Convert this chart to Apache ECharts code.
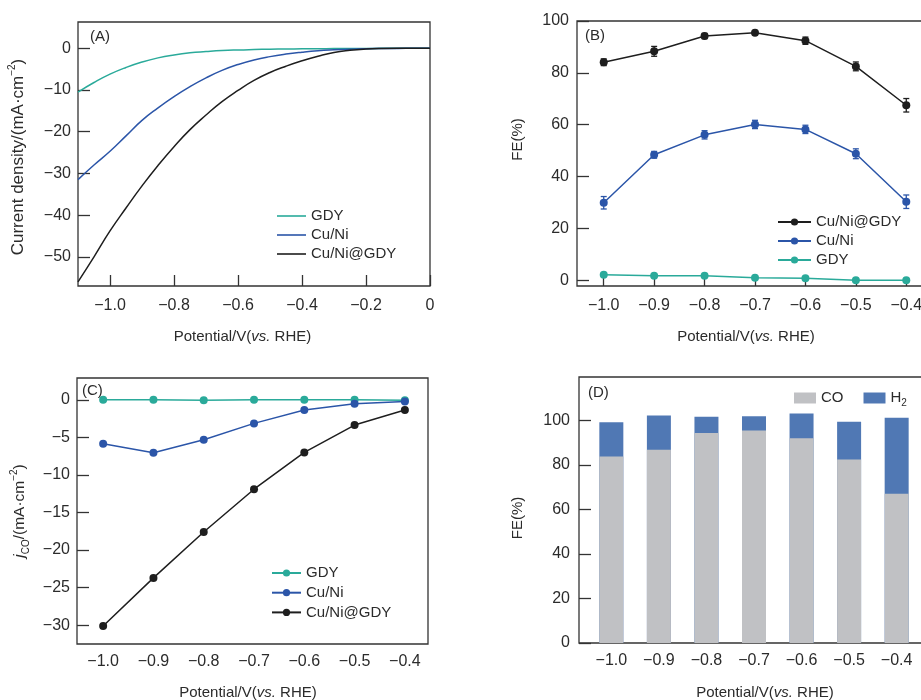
<!DOCTYPE html>
<html>
<head>
<meta charset="utf-8">
<script src="https://cdn.jsdelivr.net/npm/echarts@6/dist/echarts.min.js"></script>
<style>
    html, body { margin: 0; padding: 0; background: #ffffff; }
    #my { width: 921px; height: 700px; }
</style>
</head>
<body>
<div id="my"></div>
<script>
// (A) LSV curves
var potA = [-1.1, -1.05, -1.0, -0.95, -0.9, -0.85, -0.8, -0.75, -0.7, -0.65, -0.6, -0.55,
    -0.5, -0.45, -0.4, -0.35, -0.3, -0.25, -0.2, -0.15, -0.1, -0.05, 0];
var jGDY = [-10.5, -8.2, -6.2, -4.6, -3.3, -2.3, -1.6, -1.1, -0.8, -0.55, -0.4, -0.3,
    -0.22, -0.17, -0.13, -0.1, -0.07, -0.05, -0.03, -0.02, -0.01, 0, 0];
var jCuNi = [-31.5, -28.0, -24.7, -21.0, -17.3, -14.3, -11.6, -9.2, -7.1, -5.3, -3.9, -2.8,
    -2.0, -1.4, -0.95, -0.6, -0.38, -0.22, -0.12, -0.06, -0.03, -0.01, 0];
var jCuNiGDY = [-56.0, -50.0, -43.8, -38.3, -33.0, -28.1, -23.6, -19.5, -16.0, -12.8, -10.1, -7.7,
    -5.8, -4.3, -3.0, -1.9, -1.0, -0.5, -0.2, -0.05, 0, 0, 0];

// (B)(C)(D) potentials
var potentials = [-1.0, -0.9, -0.8, -0.7, -0.6, -0.5, -0.4];

// (B) FE of CO
var feCuNiGDY = [84.1, 88.3, 94.2, 95.5, 92.4, 82.5, 67.5];
var feCuNiGDYErr = [1.3, 1.9, 1.0, 0.8, 1.4, 1.7, 2.6];
var feCuNi = [29.9, 48.4, 56.1, 60.1, 58.2, 48.8, 30.3];
var feCuNiErr = [2.4, 1.3, 1.6, 1.6, 1.6, 1.9, 2.6];
var feGDY = [2.1, 1.8, 1.8, 1.0, 0.8, 0.0, 0.0];

// (C) partial current density of CO
var jcoGDY = [0, 0, -0.05, 0, 0, 0, -0.05];
var jcoCuNi = [-5.84, -7.04, -5.31, -3.14, -1.37, -0.53, -0.22];
var jcoCuNiGDY = [-30.1, -23.7, -17.6, -11.9, -7.0, -3.36, -1.37];

// (D) FE of CO / H2 on Cu/Ni@GDY
var coFE = [83.8, 86.8, 94.3, 95.5, 92.0, 82.4, 67.0];
var h2FE = [15.4, 15.4, 7.3, 6.4, 11.1, 17.0, 34.2];

// tick labels
var ticksAx = [-1.0, -0.8, -0.6, -0.4, -0.2, 0];
var ticksAy = [-50, -40, -30, -20, -10, 0];
var ticksFE = [0, 20, 40, 60, 80, 100];
var ticksJco = [-30, -25, -20, -15, -10, -5, 0];

var TEAL = '#2aaa9a', BLUE = '#2b55a8', BLACK = '#1e1e1e';
var FONT = '"Liberation Sans", Arial, sans-serif';
var TXT = '#2b2b2b';

function fmtV(v) {
    if (Math.abs(v) < 1e-9) return '0';
    return (v < 0 ? '\u2212' : '') + Math.abs(v).toFixed(1);
}
function fmtInt(v) {
    return v < 0 ? '\u2212' + Math.abs(v) : String(v);
}
function pairs(xs, ys) {
    return xs.map(function (x, i) { return [x, ys[i]]; });
}
function errPairs(xs, ys, es) {
    return xs.map(function (x, i) { return [x, ys[i] - es[i], ys[i] + es[i]]; });
}
// top of each stacked H2 bar (CO + H2), the CO bar is drawn over it
function stackTop(xs, a, b) {
    return xs.map(function (x, i) { return [x, a[i] + b[i]]; });
}

var chart = echarts.init(document.getElementById('my'));

var potName = 'Potential/V({i|vs.} RHE)';
function nameRich(size) {
    return {
        i: { fontStyle: 'italic', fontSize: size, fontFamily: FONT, color: TXT },
        sup: { fontSize: 10, verticalAlign: 'top', lineHeight: 22, fontFamily: FONT, color: TXT },
        sub: { fontSize: 10, verticalAlign: 'bottom', lineHeight: 22, fontFamily: FONT, color: TXT }
    };
}

function xAxisCfg(grid, min, max, ticks, opts) {
    return {
        type: 'value', gridIndex: grid, min: min, max: max,
        name: potName, nameLocation: 'middle', nameGap: opts.nameGap,
        nameTextStyle: { fontSize: 15, fontFamily: FONT, color: TXT, rich: nameRich(15), lineHeight: 22, padding: opts.namePad || 0 },
        axisLine: { show: false, onZero: false },
        splitLine: { show: false },
        axisTick: { show: opts.ticks !== false, inside: true, length: opts.tickLen || 11, customValues: ticks, lineStyle: { color: '#333', width: 1.3 } },
        axisLabel: { customValues: ticks, formatter: fmtV, margin: opts.margin, fontSize: 16, fontFamily: FONT, color: TXT }
    };
}
function yAxisCfg(grid, min, max, ticks, name, opts) {
    var size = opts.nameSize || 15;
    return {
        type: 'value', gridIndex: grid, min: min, max: max,
        name: name, nameLocation: 'middle', nameGap: opts.nameGap,
        nameTextStyle: { fontSize: size, fontFamily: FONT, color: TXT, rich: nameRich(size), lineHeight: 22, padding: opts.namePad || 0 },
        axisLine: { show: false, onZero: false },
        splitLine: { show: false },
        axisTick: { inside: true, length: 12, customValues: ticks, lineStyle: { color: '#333', width: 1.3 } },
        axisLabel: { customValues: ticks, formatter: fmtInt, margin: opts.margin, fontSize: 16, fontFamily: FONT, color: TXT }
    };
}

function errorBar(params, api) {
    var x = api.value(0);
    var lo = api.coord([x, api.value(1)]);
    var hi = api.coord([x, api.value(2)]);
    var w = 3;
    var st = { stroke: api.visual('color'), lineWidth: 1.3 };
    return {
        type: 'group',
        children: [
            { type: 'line', shape: { x1: lo[0], y1: lo[1], x2: hi[0], y2: hi[1] }, style: st },
            { type: 'line', shape: { x1: lo[0] - w, y1: lo[1], x2: lo[0] + w, y2: lo[1] }, style: st },
            { type: 'line', shape: { x1: hi[0] - w, y1: hi[1], x2: hi[0] + w, y2: hi[1] }, style: st }
        ]
    };
}

function legendName(n) { return n.split('#')[0]; }

var gridBase = { show: true, borderColor: '#333', borderWidth: 1.3, outerBoundsMode: 'none', containLabel: false };
function gridAt(l, t, w, h) {
    return Object.assign({ left: l, top: t, width: w, height: h }, gridBase);
}

var option = {
    animation: false,
    backgroundColor: '#ffffff',
    textStyle: { fontFamily: FONT },
    grid: [
        gridAt(78, 22, 352, 264),
        gridAt(577, 21, 356, 265),   // right edge runs past the canvas, as in the figure
        gridAt(77, 378, 351, 266),
        gridAt(579, 377, 350, 266)
    ],
    xAxis: [
        xAxisCfg(0, -1.1, 0, ticksAx, { nameGap: 40, margin: 12, namePad: [0, 23, 0, 0] }),
        xAxisCfg(1, -1.053, -0.347, potentials, { nameGap: 40, margin: 12, tickLen: 8, namePad: [0, 18, 0, 0] }),
        xAxisCfg(2, -1.052, -0.354, potentials, { nameGap: 38, margin: 10, ticks: false, namePad: [0, 9, 0, 0] }),
        xAxisCfg(3, -1.068, -0.332, potentials, { nameGap: 39, margin: 10, ticks: false, namePad: [0, 0, 0, 22] })
    ],
    yAxis: [
        yAxisCfg(0, -57, 6.3, ticksAy, 'Current density/(mA\u00b7cm{sup|\u22122})', { nameGap: 49, margin: 7, nameSize: 17, namePad: [0, 6, 0, 0] }),
        yAxisCfg(1, -2.2, 100, ticksFE, 'FE(%)', { nameGap: 48, margin: 8, namePad: [0, 0, 0, 28] }),
        yAxisCfg(2, -32.5, 2.9, ticksJco, '{i|j}{sub|CO}/(mA\u00b7cm{sup|\u22122})', { nameGap: 46, margin: 7, nameSize: 15.5 }),
        yAxisCfg(3, 0, 119.5, ticksFE, 'FE(%)', { nameGap: 50, margin: 9, namePad: [0, 16, 0, 0] })
    ],
    legend: [
        {
            left: 277, top: 208, orient: 'vertical', padding: 0, itemGap: 3,
            icon: 'rect', itemWidth: 29, itemHeight: 1.6,
            data: ['GDY#A', 'Cu/Ni#A', 'Cu/Ni@GDY#A'], formatter: legendName,
            textStyle: { fontSize: 15, lineHeight: 16, color: TXT, fontFamily: FONT }
        },
        {
            left: 777, top: 214, orient: 'vertical', padding: 0, itemGap: 3,
            itemWidth: 33, itemHeight: 9,
            data: ['Cu/Ni@GDY#B', 'Cu/Ni#B', 'GDY#B'], formatter: legendName,
            textStyle: { fontSize: 15, lineHeight: 16, color: TXT, fontFamily: FONT }
        },
        {
            left: 271, top: 565, orient: 'vertical', padding: 0, itemGap: 3.7,
            itemWidth: 29, itemHeight: 9,
            data: ['GDY#C', 'Cu/Ni#C', 'Cu/Ni@GDY#C'], formatter: legendName,
            textStyle: { fontSize: 15, lineHeight: 16, color: TXT, fontFamily: FONT }
        },
        {
            left: 794, top: 388, orient: 'horizontal', padding: 0, itemGap: 20,
            icon: 'rect', itemWidth: 22, itemHeight: 11,
            data: ['CO', 'H2'],
            formatter: function (n) { return n === 'H2' ? 'H{sub|2}' : n; },
            textStyle: {
                fontSize: 15, lineHeight: 16, color: TXT, fontFamily: FONT,
                rich: { sub: { fontSize: 10, verticalAlign: 'bottom', lineHeight: 20, color: TXT, fontFamily: FONT } }
            }
        }
    ],
    graphic: [
        { type: 'text', left: 90, top: 29, style: { text: '(A)', fontSize: 15, fontFamily: FONT, fill: TXT } },
        { type: 'text', left: 585, top: 28, style: { text: '(B)', fontSize: 15, fontFamily: FONT, fill: TXT } },
        { type: 'text', left: 82, top: 383, style: { text: '(C)', fontSize: 15, fontFamily: FONT, fill: TXT } },
        { type: 'text', left: 588, top: 385, style: { text: '(D)', fontSize: 15, fontFamily: FONT, fill: TXT } }
    ],
    series: [
        // (A)
        { name: 'GDY#A', type: 'line', xAxisIndex: 0, yAxisIndex: 0, data: pairs(potA, jGDY), smooth: true, symbol: 'none', color: TEAL, lineStyle: { width: 1.5 } },
        { name: 'Cu/Ni#A', type: 'line', xAxisIndex: 0, yAxisIndex: 0, data: pairs(potA, jCuNi), smooth: true, symbol: 'none', color: BLUE, lineStyle: { width: 1.5 } },
        { name: 'Cu/Ni@GDY#A', type: 'line', xAxisIndex: 0, yAxisIndex: 0, data: pairs(potA, jCuNiGDY), smooth: true, symbol: 'none', color: BLACK, lineStyle: { width: 1.5 } },
        // (B)
        { name: 'Cu/Ni@GDY#B', type: 'line', xAxisIndex: 1, yAxisIndex: 1, data: pairs(potentials, feCuNiGDY), symbol: 'circle', symbolSize: 8, color: BLACK, lineStyle: { width: 1.5 }, z: 3 },
        { name: 'Cu/Ni#B', type: 'line', xAxisIndex: 1, yAxisIndex: 1, data: pairs(potentials, feCuNi), symbol: 'circle', symbolSize: 8, color: BLUE, lineStyle: { width: 1.5 }, z: 3 },
        { name: 'GDY#B', type: 'line', xAxisIndex: 1, yAxisIndex: 1, data: pairs(potentials, feGDY), symbol: 'circle', symbolSize: 8, color: TEAL, lineStyle: { width: 1.5 }, z: 3 },
        { type: 'custom', xAxisIndex: 1, yAxisIndex: 1, renderItem: errorBar, data: errPairs(potentials, feCuNiGDY, feCuNiGDYErr), encode: { x: 0, y: [1, 2] }, itemStyle: { color: BLACK }, z: 4 },
        { type: 'custom', xAxisIndex: 1, yAxisIndex: 1, renderItem: errorBar, data: errPairs(potentials, feCuNi, feCuNiErr), encode: { x: 0, y: [1, 2] }, itemStyle: { color: BLUE }, z: 4 },
        // (C)
        { name: 'GDY#C', type: 'line', xAxisIndex: 2, yAxisIndex: 2, data: pairs(potentials, jcoGDY), symbol: 'circle', symbolSize: 8, color: TEAL, lineStyle: { width: 1.5 } },
        { name: 'Cu/Ni#C', type: 'line', xAxisIndex: 2, yAxisIndex: 2, data: pairs(potentials, jcoCuNi), symbol: 'circle', symbolSize: 8, color: BLUE, lineStyle: { width: 1.5 } },
        { name: 'Cu/Ni@GDY#C', type: 'line', xAxisIndex: 2, yAxisIndex: 2, data: pairs(potentials, jcoCuNiGDY), symbol: 'circle', symbolSize: 8, color: BLACK, lineStyle: { width: 1.5 } },
        // (D)
        { name: 'CO', type: 'bar', xAxisIndex: 3, yAxisIndex: 3, barWidth: 24, barGap: '-100%', data: pairs(potentials, coFE), color: '#c0c1c4', z: 3 },
        { name: 'H2', type: 'bar', xAxisIndex: 3, yAxisIndex: 3, barWidth: 24, barGap: '-100%', data: stackTop(potentials, coFE, h2FE), color: '#5078b4', z: 2 }
    ]
};

chart.setOption(option);
</script>
</body>
</html>
